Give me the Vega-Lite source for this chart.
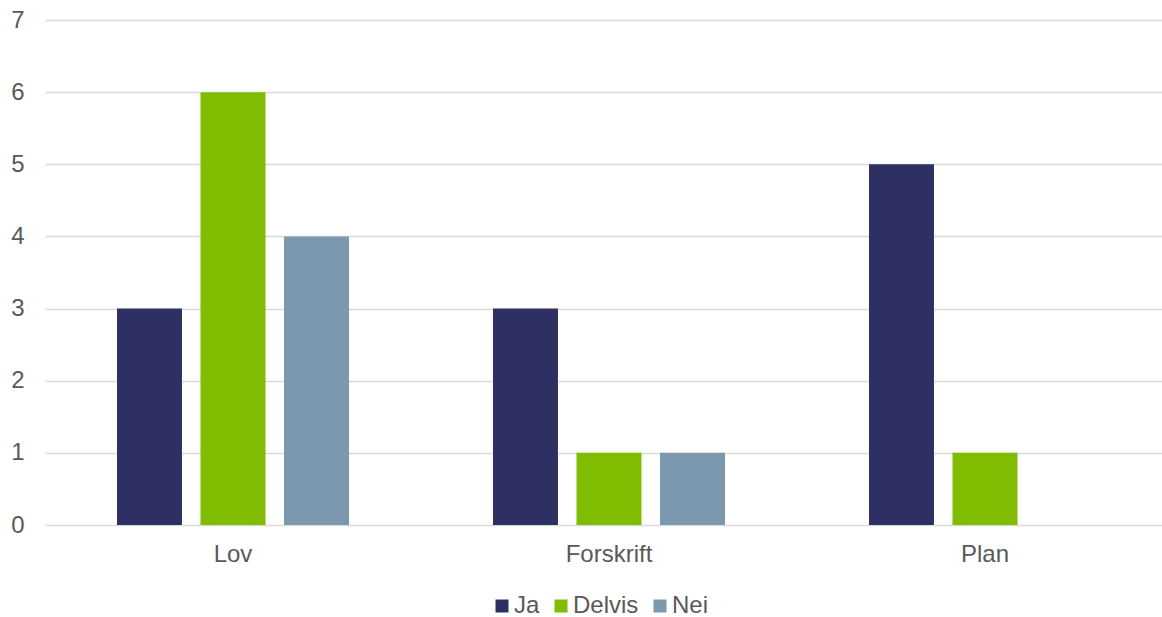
{
  "$schema": "https://vega.github.io/schema/vega-lite/v6.json",
  "width": 1128,
  "height": 505,
  "autosize": {"type": "none"},
  "padding": {"left": 45, "top": 20, "right": 0, "bottom": 92},
  "background": "white",
  "config": {
    "view": {"stroke": null},
    "font": "Liberation Sans"
  },
  "data": {
    "values": [
      {"kategori": "Lov", "svar": "Ja", "antall": 3},
      {"kategori": "Lov", "svar": "Delvis", "antall": 6},
      {"kategori": "Lov", "svar": "Nei", "antall": 4},
      {"kategori": "Forskrift", "svar": "Ja", "antall": 3},
      {"kategori": "Forskrift", "svar": "Delvis", "antall": 1},
      {"kategori": "Forskrift", "svar": "Nei", "antall": 1},
      {"kategori": "Plan", "svar": "Ja", "antall": 5},
      {"kategori": "Plan", "svar": "Delvis", "antall": 1},
      {"kategori": "Plan", "svar": "Nei", "antall": 0}
    ]
  },
  "mark": {"type": "bar"},
  "encoding": {
    "x": {
      "field": "kategori",
      "type": "nominal",
      "sort": ["Lov", "Forskrift", "Plan"],
      "scale": {"paddingInner": 0, "paddingOuter": 0},
      "axis": {
        "title": null,
        "domain": false,
        "ticks": false,
        "labelAngle": 0,
        "labelPadding": 17,
        "labelFont": "Liberation Sans",
        "labelFontSize": 24,
        "labelColor": "#595959"
      }
    },
    "xOffset": {
      "field": "svar",
      "type": "nominal",
      "sort": ["Ja", "Delvis", "Nei"],
      "scale": {"paddingInner": 0.222, "paddingOuter": 0.862}
    },
    "y": {
      "field": "antall",
      "type": "quantitative",
      "scale": {"domain": [0, 7]},
      "axis": {
        "title": null,
        "domain": false,
        "ticks": false,
        "tickCount": 7,
        "labelPadding": 21,
        "labelFont": "Liberation Sans",
        "labelFontSize": 24,
        "labelColor": "#595959",
        "gridColor": "#d9d9d9",
        "gridWidth": 1.5
      }
    },
    "color": {
      "field": "svar",
      "type": "nominal",
      "sort": ["Ja", "Delvis", "Nei"],
      "scale": {"domain": ["Ja", "Delvis", "Nei"], "range": ["#2e3064", "#80bd00", "#7b98ae"]},
      "legend": {
        "title": null,
        "orient": "none",
        "legendX": 445,
        "legendY": 574,
        "direction": "horizontal",
        "symbolType": "square",
        "symbolSize": 169,
        "symbolStrokeWidth": 0,
        "labelOffset": 0,
        "columnPadding": 9,
        "padding": 0,
        "labelFont": "Liberation Sans",
        "labelFontSize": 24,
        "labelColor": "#595959"
      }
    }
  }
}
